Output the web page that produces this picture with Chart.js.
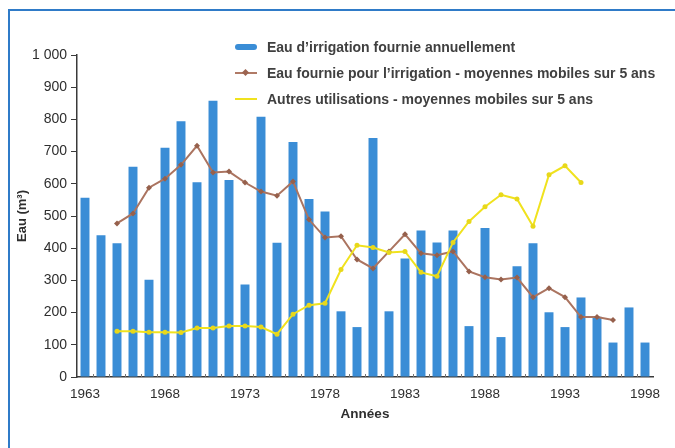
<!DOCTYPE html>
<html>
<head>
<meta charset="utf-8">
<script src="https://cdn.jsdelivr.net/npm/chart.js@4/dist/chart.umd.min.js"></script>
<style>
  html, body { margin: 0; padding: 0; background: #fff; }
  #wrap { position: relative; width: 675px; height: 448px; overflow: hidden; }
  #frame { position: absolute; left: 8px; top: 9px; width: 700px; height: 480px; border: 2px solid #2f7bc8; box-sizing: border-box; }
  canvas { position: absolute; left: 0; top: 0; }
  .legend { position: absolute; left: 235px; top: 38px; font-family: 'Liberation Sans', Arial, sans-serif; font-size: 14px; font-weight: bold; color: #404040; }
  .legend .row { position: relative; height: 25.8px; line-height: 18px; padding-left: 32px; white-space: nowrap; }
  .legend .sw { position: absolute; left: 0; top: 6px; width: 22px; height: 6px; border-radius: 3px; background: #3a8dd6; }
  .legend .ln { position: absolute; left: 0; top: 8px; width: 22px; height: 2px; }
  .legend .mk { position: absolute; left: 8px; top: 6px; width: 5px; height: 5px; background: #9c6450; transform: rotate(45deg); }
</style>
</head>
<body>
<div id="wrap">
  <div id="frame"></div>
  <canvas id="chart" width="675" height="448"></canvas>
  <div class="legend">
    <div class="row"><span class="sw"></span>Eau d’irrigation fournie annuellement</div>
    <div class="row"><span class="ln" style="background:#b07a66"></span><span class="mk"></span>Eau fournie pour l’irrigation - moyennes mobiles sur 5 ans</div>
    <div class="row"><span class="ln" style="background:#f0e21e"></span>Autres utilisations - moyennes mobiles sur 5 ans</div>
  </div>
</div>
<script>
// Years 1963..1998
const years = [];
for (let y = 1963; y <= 1998; y++) years.push(String(y));

// Irrigation water supplied each year
const irrigationAnnual = [557, 440, 415, 653, 302, 712, 794, 605, 858, 612,
                          287, 808, 417, 730, 553, 514, 204, 155, 742, 204,
                          368, 455, 418, 455, 158, 463, 124, 344, 415, 201,
                          155, 247, 187, 107, 216, 107];

// Irrigation, 5-year moving average (1965..1996)
const irrigationAvg = [null, null, 477, 508, 588, 616, 659, 718, 635, 638,
                       604, 576, 563, 607, 489, 433, 437, 365, 337, 390,
                       443, 384, 378, 390, 328, 310, 303, 309, 248, 276,
                       248, 186, 186, 177, null, null];

// Other uses, 5-year moving average (1965..1994)
const otherAvg = [null, null, 142, 142, 139, 139, 138, 152, 152, 158,
                  158, 155, 133, 195, 223, 229, 334, 409, 402, 387,
                  390, 325, 313, 418, 483, 529, 566, 553, 468, 628,
                  656, 604, null, null, null, null];

const yTicks = [0, 100, 200, 300, 400, 500, 600, 700, 800, 900, 1000];

const FONT = "'Liberation Sans', Arial, sans-serif";
const AXIS = '#3a3a3a';
const TEXT = '#2e2e2e';

// small inward tick marks on the x axis, between bars
const innerTicks = {
    id: 'innerTicks',
    afterDatasetsDraw(chart) {
        const x = chart.scales.x;
        const ctx = chart.ctx;
        const half = (x.getPixelForValue(1) - x.getPixelForValue(0)) / 2;
        ctx.save();
        ctx.strokeStyle = '#777';
        ctx.lineWidth = 1;
        ctx.beginPath();
        for (let i = 1; i < years.length; i++) {
            const px = Math.round(x.getPixelForValue(i) - half) + 0.5;
            ctx.moveTo(px, x.top);
            ctx.lineTo(px, x.top - 3);
        }
        ctx.stroke();
        ctx.restore();
    }
};

new Chart(document.getElementById('chart'), {
    data: {
        labels: years,
        datasets: [
            {
                type: 'line',
                label: 'Autres utilisations - moyennes mobiles sur 5 ans',
                data: otherAvg,
                borderColor: '#f0e21e',
                backgroundColor: '#e8d81a',
                borderWidth: 2,
                pointRadius: 2.5,
                pointBorderWidth: 0,
                pointStyle: 'circle',
                tension: 0,
                order: 1
            },
            {
                type: 'line',
                label: 'Eau fournie pour l’irrigation - moyennes mobiles sur 5 ans',
                data: irrigationAvg,
                borderColor: '#ab7460',
                backgroundColor: '#96604c',
                borderWidth: 2,
                pointRadius: 3,
                pointBorderWidth: 0,
                pointStyle: 'rectRot',
                tension: 0,
                order: 2
            },
            {
                type: 'bar',
                label: 'Eau d’irrigation fournie annuellement',
                data: irrigationAnnual,
                backgroundColor: '#3a8dd6',
                barPercentage: 0.56,
                categoryPercentage: 1,
                order: 3
            }
        ]
    },
    options: {
        responsive: false,
        animation: false,
        layout: { padding: { top: 55, right: 22, bottom: 0, left: 0 } },
        plugins: { legend: { display: false }, tooltip: { enabled: false } },
        scales: {
            x: {
                type: 'category',
                offset: true,
                afterFit: s => { s.height = 71; },
                grid: { display: false, drawTicks: false },
                border: { color: AXIS, width: 1.5 },
                ticks: {
                    autoSkip: false,
                    maxRotation: 0,
                    padding: 9,
                    color: TEXT,
                    font: { family: FONT, size: 13.5 },
                    callback: function (v, i) { return (i % 5 === 0) ? years[i] : ''; }
                },
                title: {
                    display: true,
                    text: 'Années',
                    color: TEXT,
                    font: { family: FONT, size: 13.5, weight: 'bold' },
                    padding: { top: 4, bottom: 26 }
                }
            },
            y: {
                min: 0,
                max: 1000,
                afterFit: s => { s.width = 77; },
                afterBuildTicks: s => { s.ticks = yTicks.map(v => ({ value: v })); },
                grid: { drawOnChartArea: false, drawTicks: true, tickLength: 6, color: AXIS },
                border: { color: AXIS, width: 1.5 },
                ticks: {
                    padding: 4,
                    color: TEXT,
                    font: { family: FONT, size: 14 },
                    callback: v => v === 1000 ? '1 000' : String(v)
                },
                title: {
                    display: true,
                    text: 'Eau (m³)',
                    color: TEXT,
                    font: { family: FONT, size: 13, weight: 'bold' },
                    padding: { top: 15, bottom: 0 }
                }
            }
        }
    },
    plugins: [innerTicks]
});
</script>
</body>
</html>
